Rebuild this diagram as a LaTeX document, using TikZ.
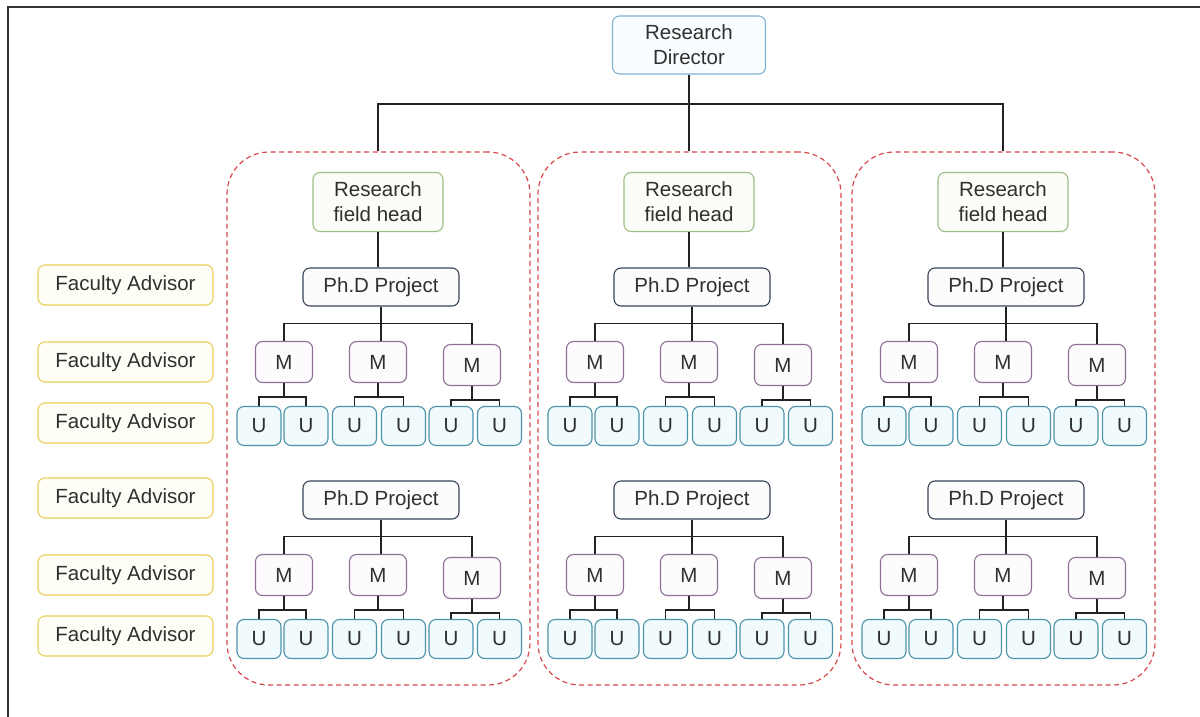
\documentclass[tikz,border=0pt]{standalone}
\usepackage{fontspec}
\setmainfont{Liberation Sans}
\usetikzlibrary{calc}
\definecolor{txt}{HTML}{303030}
\definecolor{framec}{HTML}{333333}
\definecolor{linkc}{HTML}{222222}
\definecolor{dirline}{HTML}{7FB3D5}
\definecolor{dirfill}{HTML}{FAFDFF}
\definecolor{headline}{HTML}{9DBF86}
\definecolor{headfill}{HTML}{FBFDF8}
\definecolor{projline}{HTML}{3A4558}
\definecolor{projfill}{HTML}{FCFCFD}
\definecolor{mline}{HTML}{8E6F98}
\definecolor{mfill}{HTML}{FDFBFD}
\definecolor{uline}{HTML}{4A93A8}
\definecolor{ufill}{HTML}{F1FAFC}
\definecolor{faline}{HTML}{E8CF5A}
\definecolor{fafill}{HTML}{FFFEF6}
\definecolor{grpline}{HTML}{D9474C}
\begin{document}
\begin{tikzpicture}[x=1pt,y=-1pt,
  card/.style={draw, line width=1.1pt, rounded corners=7pt, inner sep=0pt,
    align=center, text=txt, font=\fontsize{20.5}{25}\selectfont},
  dirbox/.style={card, draw=dirline, fill=dirfill, minimum width=153pt, minimum height=58pt},
  headbox/.style={card, draw=headline, fill=headfill, minimum width=130pt, minimum height=59pt},
  projbox/.style={card, draw=projline, fill=projfill, minimum width=156pt, minimum height=38pt},
  mbox/.style={card, draw=mline, fill=mfill, minimum width=57pt, minimum height=41pt},
  ubox/.style={card, draw=uline, fill=ufill, minimum width=44pt, minimum height=39pt},
  fabox/.style={card, draw=faline, fill=fafill, minimum width=175pt, minimum height=40pt},
  grpbox/.style={draw=grpline, line width=1.2pt, dash pattern=on 5pt off 3.5pt,
    rounded corners=42pt, minimum width=303pt, minimum height=533pt, inner sep=0pt},
  link/.style={draw=linkc, line width=1.2pt},
  framed/.style={draw=framec, line width=1.6pt}
]
\useasboundingbox (0,0) rectangle (1200,717);
\fill[white] (0,0) rectangle (1200,717);
\draw[framed] (8,717) -- (8,7) -- (1200,7);

% top of the hierarchy
\node[dirbox] (dir) at (689,45) {Research\\Director};

% faculty advisor labels on the left
\foreach \i/\y in {1/285, 2/362, 3/423, 4/498, 5/575, 6/636}
  \node[fabox] (fa\i) at (125.5,\y) {Faculty Advisor};

% one research field per group
\foreach \g/\dx in {1/0, 2/311, 3/625} {
  \begin{scope}[xshift=\dx pt]
    \node[grpbox] (grp\g) at (378.5,418.5) {};
    \node[headbox] (fh\g) at (378,202) {Research\\field head};
    \foreach \r/\dy in {a/0, b/213} {
      \begin{scope}[yshift=-\dy pt]
        \node[projbox] (pa\g\r) at (381,287) {Ph.D Project};
        \node[mbox] (ma\g\r) at (284,362) {M};
        \node[mbox] (mb\g\r) at (378,362) {M};
        \node[mbox] (mc\g\r) at (472,365) {M};
        \foreach \k/\ux in {1/259, 2/306, 3/354.5, 4/403.5, 5/451, 6/499.5}
          \node[ubox] (u\g\r\k) at (\ux,426) {U};
      \end{scope}
      % project to masters
      \draw[link] (ma\g\r.north) |- ($(pa\g\r.south)+(0,17)$) -| (mc\g\r.north);
      \draw[link] (pa\g\r.south) -- (pa\g\r.south |- mb\g\r.north);
      % masters to undergraduates
      \foreach \m/\ua/\ub in {a/1/2, b/3/4, c/5/6} {
        \draw[link] (m\m\g\r.south) -- ($(m\m\g\r.south)+(0,14)$);
        \draw[link] (u\g\r\ua.north) |- ($(m\m\g\r.south)+(0,14)$) -| (u\g\r\ub.north);
      }
    }
    \draw[link] (fh\g.south) -- (fh\g.south |- pa\g a.north);
  \end{scope}
}

% director to the field heads
\coordinate (bus) at (0,104);
\draw[link] (dir.south) -- (dir.south |- grp2.north);
\draw[link] (fh1 |- grp1.north) |- (fh3 |- bus) -- (fh3 |- grp3.north);
\end{tikzpicture}
\end{document}
